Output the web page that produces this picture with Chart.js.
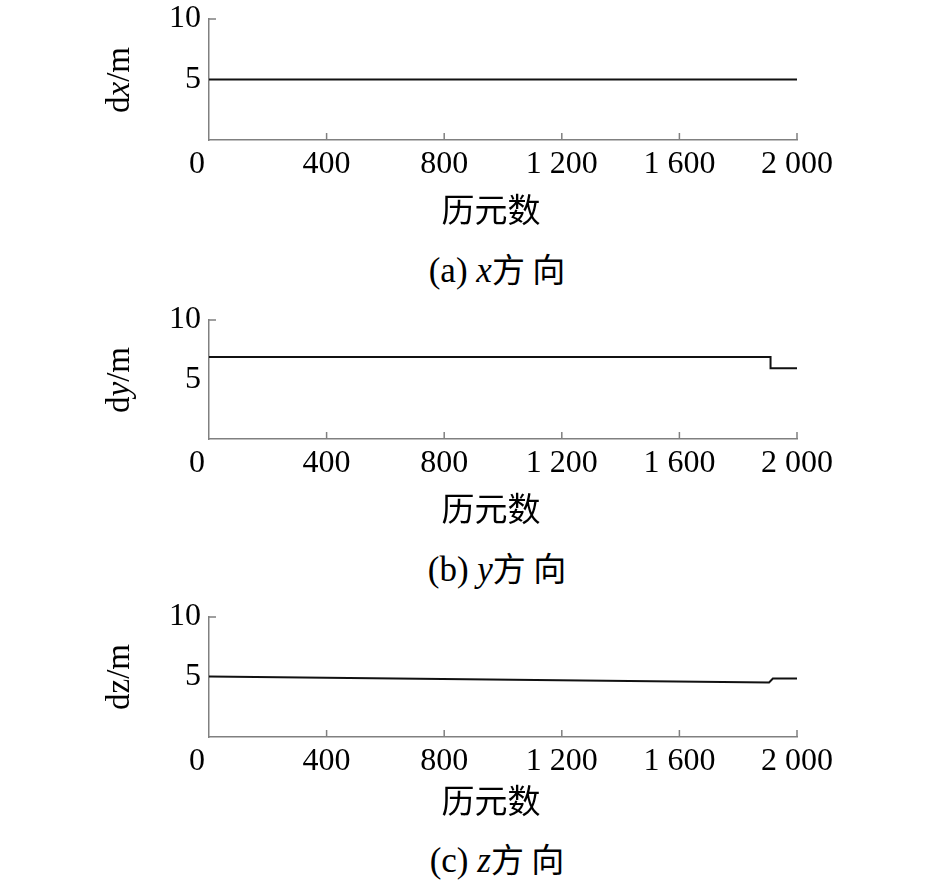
<!DOCTYPE html>
<html>
<head>
<meta charset="utf-8">
<script src="https://cdn.jsdelivr.net/npm/chart.js@4"></script>
<style>
  body { margin: 0; background: #fff; width: 945px; height: 889px; position: relative; overflow: hidden;
         font-family: "Liberation Serif", "Noto Sans CJK SC", serif; color: #000; }
  .box { position: absolute; left: 0; width: 945px; }
  .ylab { position: absolute; font-size: 33px; transform: translate(-50%, -50%) rotate(-90deg); white-space: nowrap; }
  .cap { position: absolute; font-size: 35px; transform: translate(-50%, -50%); white-space: nowrap; }
  .cjk { font-family: "Noto Sans CJK SC", sans-serif; font-size: 33px; }
</style>
</head>
<body>
<div class="box" id="boxA"><canvas id="chartA"></canvas></div>
<div class="box" id="boxB"><canvas id="chartB"></canvas></div>
<div class="box" id="boxC"><canvas id="chartC"></canvas></div>

<div class="ylab" style="left:118px; top:80px;">d<i>x</i>/m</div>
<div class="ylab" style="left:118px; top:380px;">d<i>y</i>/m</div>
<div class="ylab" style="left:118px; top:677px;">dz/m</div>

<div class="cap" style="left:497px; top:268px;">(a) <i>x</i><span class="cjk">方 向</span></div>
<div class="cap" style="left:497px; top:567px;">(b) <i>y</i><span class="cjk">方 向</span></div>
<div class="cap" style="left:497px; top:858px;">(c) <i>z</i><span class="cjk">方 向</span></div>

<script>
// Data
const epochTicks = [0, 400, 800, 1200, 1600, 2000];
const valueTicks = [5, 10];

const dxEpochs = [0, 2000];
const dxValues = [5, 5];

const dyEpochs = [0, 1910, 1910, 2000];
const dyValues = [6.9, 6.9, 5.95, 5.95];

const dzEpochs = [0, 1905, 1918, 2000];
const dzValues = [5.05, 4.55, 4.88, 4.88];

const axisColor = "#808080";

// small inward ticks like the original figure
const inwardTicks = {
  id: "inwardTicks",
  afterDatasetsDraw(chart) {
    const { ctx, chartArea, scales } = chart;
    ctx.save();
    ctx.strokeStyle = axisColor;
    ctx.lineWidth = 1.5;
    ctx.beginPath();
    scales.x.ticks.forEach((t) => {
      if (t.value === 0) return;
      const px = scales.x.getPixelForValue(t.value);
      ctx.moveTo(px, chartArea.bottom);
      ctx.lineTo(px, chartArea.bottom - 7);
    });
    const py = scales.y.getPixelForValue(scales.y.max);
    ctx.moveTo(chartArea.left, py);
    ctx.lineTo(chartArea.left + 7, py);
    ctx.stroke();
    ctx.restore();
  },
};

function epochLabel(v) {
  if (v === 0) return "0   ";
  if (v >= 1000) return Math.floor(v / 1000) + " " + String(v % 1000).padStart(3, "0");
  return String(v);
}

function makeChart(id, boxId, epochs, values, divTop, areaTop, areaBottom, xHeight) {
  const box = document.getElementById(boxId);
  box.style.top = divTop + "px";
  box.style.height = (areaBottom - divTop + xHeight) + "px";

  return new Chart(document.getElementById(id), {
    type: "line",
    data: {
      datasets: [
        {
          data: epochs.map((e, i) => ({ x: e, y: values[i] })),
          borderColor: "#111",
          borderWidth: 2,
          pointRadius: 0,
          tension: 0,
          fill: false,
        },
      ],
    },
    options: {
      responsive: true,
      maintainAspectRatio: false,
      animation: false,
      events: [],
      layout: { padding: { top: areaTop - divTop, right: 148, left: 0, bottom: 0 } },
      plugins: { legend: { display: false }, tooltip: { enabled: false } },
      scales: {
        x: {
          type: "linear",
          min: 0,
          max: 2000,
          grid: { display: false, drawTicks: false },
          border: { display: true, color: axisColor, width: 1.5 },
          afterBuildTicks: (s) => { s.ticks = epochTicks.map((v) => ({ value: v })); },
          afterFit: (s) => {
            s.height = xHeight;
            s.paddingLeft = 0;
            s.paddingRight = 0;
          },
          ticks: {
            padding: 5,
            maxRotation: 0,
            autoSkip: false,
            color: "#000",
            font: { family: "Liberation Serif", size: 32 },
            callback: (v) => epochLabel(v),
          },
          title: {
            display: true,
            text: "历元数\u2002 ",
            color: "#000",
            font: { family: "Noto Sans CJK SC", size: 33 },
            padding: { top: 0, bottom: 11 },
          },
        },
        y: {
          min: 0,
          max: 10,
          grid: { display: false, drawTicks: false },
          border: { display: true, color: axisColor, width: 1.5 },
          afterBuildTicks: (s) => { s.ticks = valueTicks.map((v) => ({ value: v })); },
          afterFit: (s) => {
            s.width = 209;
            s.paddingTop = 0;
            s.paddingBottom = 0;
          },
          ticks: {
            padding: 8,
            color: "#000",
            font: { family: "Liberation Serif", size: 32 },
          },
        },
      },
    },
    plugins: [inwardTicks],
  });
}

makeChart("chartA", "boxA", dxEpochs, dxValues, 0, 19, 140, 100);
makeChart("chartB", "boxB", dyEpochs, dyValues, 300, 320, 439, 100);
makeChart("chartC", "boxC", dzEpochs, dzValues, 597, 617, 737, 94);
</script>
</body>
</html>
